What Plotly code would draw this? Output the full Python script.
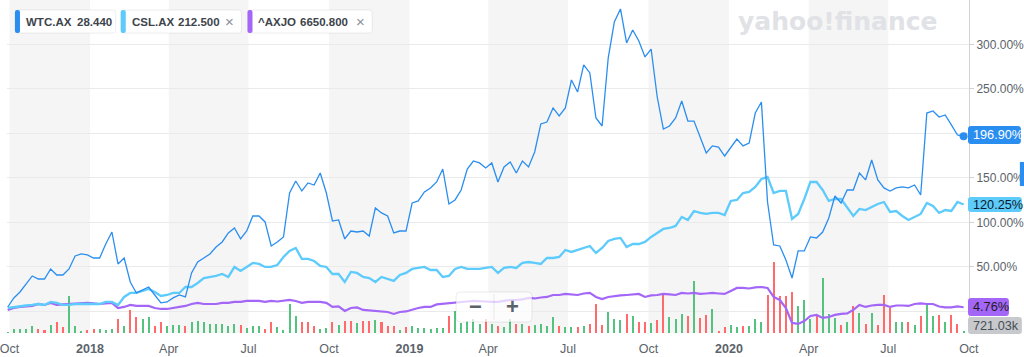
import plotly.graph_objects as go
import pandas as pd

# ---------------- data ----------------
start_date = "2017-09-29"          # first weekly point
week_step = "7D"

wtc_pct = [5, 15.2, 21.9, 31, 39.9, 36.5, 36.5, 47.8, 41, 41,
           47.8, 62.4, 64.6, 63.5, 60.1, 60.1, 75.8, 89.3, 53.4, 60.1,
           33.1, 20.8, 24.2, 27.5, 18.5, 9.6, 10.7, 15.2, 18.5, 16.3,
           43.3, 55.6, 60.1, 64.6, 72.5, 78.1, 88.2, 93.8, 81.5, 90.4,
           107.3, 107.3, 100.6, 73.6, 78.1, 83.7, 133.1, 146.6, 135.4, 144.4,
           142.1, 155.6, 133.1, 101.7, 102.8, 81.5, 90.4, 89.3, 90.4, 84.8,
           116.3, 110.7, 107.3, 88.2, 90.4, 90.4, 121.9, 124.2, 134.3, 138.8,
           145.5, 160.1, 120.8, 125.3, 136.5, 160.1, 169.1, 166.9, 161.2, 166.9,
           145.5, 162.4, 168, 155.6, 169.1, 162.4, 179.2, 210.7, 212.9, 228.7,
           219.7, 228.7, 260.1, 246.6, 277, 268, 217.4, 208.4, 284.8, 325.3,
           339.9, 301.7, 316.3, 303.9, 286, 294.9, 241, 205, 208.4, 217.4,
           236.5, 214, 214, 196.1, 178.1, 186, 184.8, 174.7, 183.7, 193.8,
           186, 189.3, 223, 235.4, 123, 74.7, 73.6, 57.9, 37.6, 68,
           68, 83.7, 82.6, 89.3, 105, 129.8, 121.9, 136.5, 136.5, 155.6,
           147.8, 170.2, 147.8, 138.8, 135.4, 138.8, 139.9, 138.8, 142.1, 130.9,
           223, 225.3, 218.5, 220.8, 209.6, 198.3, 196.9]

csl_pct = [3.9, 5.1, 6.2, 6.7, 7.3, 8.4, 7.3, 10.7, 9.6, 7.3,
           7.3, 8.4, 8.4, 8.4, 8.4, 8.4, 10.7, 10.7, 7.3, 16.3,
           20.8, 20.8, 23, 25.3, 21.9, 17.4, 18.5, 20.8, 20.8, 27.5,
           27.5, 32, 37.6, 38.8, 39.9, 42.1, 38.8, 50, 45.5, 50,
           54.5, 53.4, 50, 50, 52.2, 61.2, 68, 71.3, 59, 59,
           56.7, 51.1, 50, 42.1, 42.1, 33.1, 44.4, 43.3, 38.8, 37.6,
           33.1, 38.8, 36.5, 34.3, 41, 43.3, 47.8, 48.9, 50, 46.6,
           46.6, 38.8, 39.9, 47.8, 50, 47.8, 47.8, 47.8, 48.9, 50,
           43.3, 48.9, 50, 48.9, 54.5, 55.6, 54.5, 53.4, 60.1, 60.1,
           61.2, 69.1, 66.9, 69.1, 71.3, 73.6, 65.7, 71.3, 79.2, 81.5,
           82.6, 72.5, 75.8, 75.8, 78.1, 83.7, 88.2, 92.7, 93.8, 96.1,
           106.2, 102.8, 112.9, 110.7, 109.6, 110.7, 110.7, 108.4, 124.2, 125.3,
           133.1, 134.3, 139.9, 148.9, 151.1, 133.1, 135.4, 135.4, 103.9, 109.6,
           126.4, 145.5, 145.5, 136.5, 124.2, 126.4, 126.4, 117.4, 107.3, 115.2,
           114, 117.4, 120.8, 123, 111.8, 112.9, 107.3, 102.8, 106.2, 109.6,
           121.9, 118.5, 110.7, 114, 112.9, 123, 120.25]

axjo_pct = [1.7, 3.9, 5.1, 5.6, 6.2, 8.4, 7.3, 9.6, 7.3, 7.9,
            8.4, 8.4, 9.6, 9.6, 9, 8.4, 9, 9.6, 3.9, 5.1,
            7.3, 6.2, 6.2, 6.2, 3.9, 2.8, 2.8, 3.9, 5.1, 6.2,
            8.4, 9.6, 8.4, 8.4, 8.4, 9.6, 9.6, 10.7, 10.7, 11.8,
            11.8, 11.8, 10.7, 11.8, 11.2, 11.8, 12.9, 11.8, 9.6, 10.7,
            10.7, 10.7, 9.6, 5.1, 5.6, 0.6, 3.9, 4.5, 1.7, 1.1,
            0.6, 0, -0.6, -2.8, -0.6, 0, 2.2, 3.9, 5.1, 5.1,
            7.9, 8.4, 9, 10.1, 10.7, 11.2, 11.8, 11.8, 11.2, 10.7,
            10.7, 11.8, 12.9, 12.9, 13.5, 15.2, 14.6, 15.7, 16.3, 18.5,
            18.5, 19.7, 19.1, 18.5, 20.2, 20.8, 16.3, 14, 16.3, 17.4,
            18, 18.5, 19.1, 19.7, 16.3, 18, 18.5, 19.7, 19.1, 18.5,
            20.8, 20.2, 20.8, 19.7, 20.2, 20.8, 20.2, 19.7, 23, 26.4,
            26.4, 25.8, 27, 27.5, 26.4, 16.3, 12.9, 3.9, -12.9, -14,
            -10.7, -5.1, -3.9, -7.3, -6.2, -3.9, -2.8, -2.2, 1.7, 7.3,
            5.1, 6.7, 7.3, 7.3, 5.1, 6.7, 6.7, 6.2, 8.4, 9,
            8.4, 8.4, 5.6, 4.5, 4.5, 5.6, 4.76]

# WTC weekly volume, millions of shares
wtc_volume_m = [0.3, 1.3, 1.3, 1.3, 2.0, 1.3, 1.0, 2.5, 3.4, 1.7,
                11.0, 2.0, 0.5, 1.0, 1.3, 1.3, 1.0, 1.3, 4.2, 2.2,
                6.8, 4.8, 4.2, 4.8, 2.2, 3.3, 2.0, 2.5, 2.5, 2.0,
                3.3, 3.7, 3.3, 2.8, 2.7, 2.8, 2.2, 2.7, 2.5, 1.5,
                2.2, 2.2, 1.3, 3.3, 1.7, 1.0, 8.8, 5.2, 3.2, 3.2,
                2.2, 1.3, 1.5, 3.2, 2.5, 3.5, 3.5, 3.0, 3.5, 3.7,
                4.0, 3.3, 2.2, 2.0, 1.0, 1.7, 2.0, 1.5, 1.5, 1.2,
                1.5, 1.5, 5.2, 6.5, 3.0, 3.6, 4.2, 2.7, 4.2, 2.7,
                2.0, 1.7, 4.2, 2.7, 2.7, 2.2, 2.5, 2.8, 2.2, 4.8,
                2.2, 1.8, 1.8, 1.8, 2.2, 2.8, 8.8, 2.5, 6.3, 4.2,
                4.0, 5.8, 5.2, 3.3, 3.3, 3.0, 4.0, 11.8, 4.8, 4.3,
                5.8, 5.2, 15.7, 4.5, 5.5, 7.2, 0.7, 1.7, 2.3, 1.7,
                2.0, 2.0, 4.3, 3.2, 11.5, 21.4, 11.0, 11.2, 12.2, 8.0,
                10.0, 4.2, 5.2, 16.4, 5.8, 4.5, 2.5, 3.3, 8.2, 6.0,
                2.8, 6.0, 2.5, 11.5, 7.5, 3.2, 3.2, 3.3, 2.5, 5.2,
                8.8, 5.2, 5.5, 3.2, 5.5, 2.7, 0.72]

# g = up week (green), r = down week (red)
volume_direction = ("gggggrrgrr" "gggrrgggrg" "rrggrrgggr" "ggggggggrg" "ggrrggggrr"
                    "rggrgrrgrr" "grrrgrgggg" "ggrgggggrg" "rggrgrgggg" "rggrgrrrgg"
                    "grgrrgrrgg" "grgrrgrrgg" "rgggrrrrrg" "ggrgggrgrg" "rgrrrggrgr"
                    "ggrgrrg")

tick_dates = ["2017-10-01", "2018-01-01", "2018-04-01", "2018-07-01", "2018-10-01",
              "2019-01-01", "2019-04-01", "2019-07-01", "2019-10-01", "2020-01-01",
              "2020-04-01", "2020-07-01", "2020-10-01"]
tick_labels = ["Oct", "<b>2018</b>", "Apr", "Jul", "Oct", "<b>2019</b>", "Apr", "Jul",
               "Oct", "<b>2020</b>", "Apr", "Jul", "Oct"]
shaded_quarters = [("2017-10-01", "2018-01-01"), ("2018-04-01", "2018-07-01"),
                   ("2018-10-01", "2019-01-01"), ("2019-04-01", "2019-07-01"),
                   ("2019-10-01", "2020-01-01"), ("2020-04-01", "2020-07-01")]
pct_ticks = [0, 50, 100, 150, 200, 250, 300]
pct_tick_text = ["", "50.00%", "100.00%", "150.00%", "", "250.00%", "300.00%"]

legend_items = [("WTC.AX", "28.440", False), ("CSL.AX", "212.500", True), ("^AXJO", "6650.800", True)]
last_labels = ["196.90%", "120.25%", "4.76%", "721.03k"]

# ---------------- styling ----------------
C_WTC = "#2a8ef0"
C_CSL = "#5dcbfb"
C_AXJO = "#a366f7"
C_UP = "#55c27f"
C_DN = "#ff6a6a"
TXT = "#5b636a"

W, H = 1024, 357
L, R, T, B = 5, 55, 0, 24
PW, PH = W - L - R, H - T - B


def px(x):
    return (x - L) / PW


def py(y):
    return 1 - (y - T) / PH


def rrect(x0, y0, x1, y1, r, fill, line=None, layer="above"):
    X, Y = px, py
    path = (f"M {X(x0 + r)},{Y(y0)} L {X(x1 - r)},{Y(y0)} Q {X(x1)},{Y(y0)} {X(x1)},{Y(y0 + r)} "
            f"L {X(x1)},{Y(y1 - r)} Q {X(x1)},{Y(y1)} {X(x1 - r)},{Y(y1)} "
            f"L {X(x0 + r)},{Y(y1)} Q {X(x0)},{Y(y1)} {X(x0)},{Y(y1 - r)} "
            f"L {X(x0)},{Y(y0 + r)} Q {X(x0)},{Y(y0)} {X(x0 + r)},{Y(y0)} Z")
    return dict(type="path", xref="paper", yref="paper", path=path, fillcolor=fill,
                line=dict(color=line if line else "rgba(0,0,0,0)", width=1 if line else 0),
                layer=layer)


def label(x, y, text, size=12, color=TXT, anchor="left", bold=False, family="Liberation Sans"):
    return dict(x=px(x), y=py(y), xref="paper", yref="paper", text=text, showarrow=False,
                xanchor=anchor, yanchor="middle",
                font=dict(size=size, color=color, family=family,
                          weight="bold" if bold else "normal"))


dates = pd.date_range(start_date, periods=len(wtc_pct), freq=week_step)
bar_colors = [C_UP if d == "g" else C_DN for d in volume_direction]

fig = go.Figure()
fig.add_trace(go.Bar(x=dates, y=wtc_volume_m, marker_color=bar_colors, marker_line_width=0,
                     width=2.3 * 86400000, yaxis="y", hoverinfo="skip"))
fig.add_trace(go.Scatter(x=dates, y=axjo_pct, mode="lines", line=dict(color=C_AXJO, width=2.2),
                         yaxis="y2", hoverinfo="skip"))
fig.add_trace(go.Scatter(x=dates, y=csl_pct, mode="lines", line=dict(color=C_CSL, width=2.3),
                         yaxis="y2", hoverinfo="skip"))
fig.add_trace(go.Scatter(x=dates, y=wtc_pct, mode="lines", line=dict(color=C_WTC, width=1.3),
                         yaxis="y2", hoverinfo="skip"))
fig.add_trace(go.Scatter(x=[dates[-1]], y=[wtc_pct[-1]], mode="markers",
                         marker=dict(color=C_WTC, size=8), yaxis="y2", hoverinfo="skip"))

shapes = []
for a, b in shaded_quarters:
    shapes.append(dict(type="rect", xref="x", yref="paper", x0=a, x1=b, y0=0, y1=1,
                       fillcolor="#f5f5f5", line=dict(width=0), layer="below"))

annotations = []
# watermark
annotations.append(label(838, 22, "yahoo!finance", size=25, color="#e0e2e6", anchor="center",
                         bold=True, family="DejaVu Sans"))

# legend chips
chip_x = [(13, 114), (119, 240), (246, 371)]
chip_cols = [C_WTC, C_CSL, C_AXJO]
val_x = [73, 174, 297]
for (x0, x1), col, vx, (name, val, closable) in zip(chip_x, chip_cols, val_x, legend_items):
    shapes.append(rrect(x0, 10, x1, 33, 3, "#ffffff", line="rgba(0,0,0,0.07)"))
    shapes.append(rrect(x0, 10, x0 + 5, 33, 2, col))
    annotations.append(label(x0 + 9, 21.5, name, size=11.5, color="#3d444b", bold=True))
    annotations.append(label(vx, 21.5, val, size=11.5, color="#3d444b", bold=True))
    if closable:
        annotations.append(label(x1 - 12, 21.5, "×", size=15, color="#8a9096", anchor="center"))

# last-value tags on the right
tags = [(126, 144, 1021, C_WTC, "#ffffff"),
        (197, 212, 1022, C_CSL, "#0d1b29"),
        (298, 316, 1009, C_AXJO, "#1b1b1b"),
        (317, 334, 1022, "#c7c9cc", "#464e56")]
for (y0, y1, x1, bg, fg), txt in zip(tags, last_labels):
    shapes.append(rrect(968, y0, x1, y1, 3, bg))
    annotations.append(label(971, (y0 + y1) / 2, txt, size=12.7, color=fg))

# right edge blue marker
shapes.append(dict(type="rect", xref="paper", yref="paper", x0=px(1020), x1=px(1025),
                   y0=py(186), y1=py(162), fillcolor=C_WTC, line=dict(width=0), layer="above"))

# zoom control
shapes.append(rrect(455, 292, 531, 322, 4, "rgba(255,255,255,0.72)", line="rgba(0,0,0,0.08)"))
shapes.append(dict(type="line", xref="paper", yref="paper", x0=px(493), x1=px(493),
                   y0=py(294), y1=py(320), line=dict(color="rgba(0,0,0,0.08)", width=1), layer="above"))
annotations.append(label(474, 306, "−", size=22, color="#5b636a", anchor="center", bold=True))
annotations.append(label(512, 306, "+", size=22, color="#5b636a", anchor="center", bold=True))

fig.update_layout(
    width=W, height=H,
    margin=dict(l=L, r=R, t=T, b=B, pad=0),
    paper_bgcolor="#ffffff", plot_bgcolor="#ffffff",
    showlegend=False, bargap=0,
    font=dict(family="Liberation Sans", color=TXT),
    xaxis=dict(type="date", range=["2017-09-28 04:00", "2020-10-01 04:00"],
               tickvals=tick_dates, ticktext=tick_labels, showgrid=False, zeroline=False,
               showline=False, ticks="", ticklabelstandoff=6, ticklabeloverflow="allow",
               tickfont=dict(size=12.5, color=TXT)),
    yaxis=dict(range=[0, 100], visible=False, fixedrange=True),
    yaxis2=dict(overlaying="y", side="right", range=[-24.2, 350], tickvals=pct_ticks,
                ticktext=pct_tick_text, showgrid=True, gridcolor="#eaeaea", gridwidth=1,
                zeroline=False, showline=True, linecolor="#d2d2d2", ticks="outside",
                ticklen=4, tickcolor="#d2d2d2", tickfont=dict(size=12, color=TXT)),
    shapes=shapes, annotations=annotations,
)

fig.write_html(
    "out.html",
    config={"displayModeBar": False},
    post_script="document.body.style.margin='0';document.body.style.overflow='hidden';",
)
